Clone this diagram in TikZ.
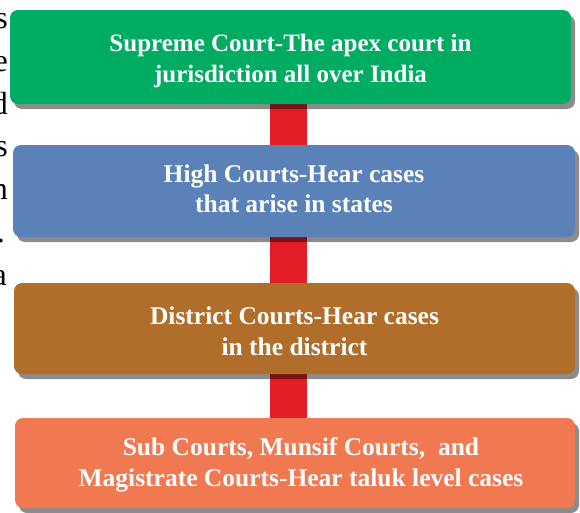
\documentclass[tikz,border=0pt]{standalone}
\usepackage{fontspec}
\setmainfont{Liberation Serif}
\usetikzlibrary{shadows,backgrounds}
\definecolor{sgreen}{RGB}{0,172,98}
\definecolor{hblue}{RGB}{90,130,184}
\definecolor{dbrown}{RGB}{176,110,42}
\definecolor{sorange}{RGB}{240,121,82}
\definecolor{barred}{RGB}{228,30,38}
\tikzset{
  court/.style={rounded corners=8pt, inner sep=0pt,
    drop shadow={shadow xshift=4pt, shadow yshift=-5pt, fill=black, opacity=0.45}},
  courttext/.style={align=center, text=white, inner sep=0pt,
    font=\bfseries\fontsize{25.5}{30.5}\selectfont},
  bar/.style={line width=37pt, barred},
  edge/.style={anchor=base east, font=\fontsize{32}{38}\selectfont, text=black, inner sep=0pt}
}
\begin{document}
\begin{tikzpicture}[x=1pt,y=-1pt]
\useasboundingbox (0,0) rectangle (580,512);
\clip (0,0) rectangle (580,512);
\node[edge] (l1) at (8,28) {s};
\node[edge] (l2) at (8,71) {e};
\node[edge] (l3) at (8,114) {d};
\node[edge] (l4) at (8,156) {s};
\node[edge] (l5) at (8,199) {n};
\node[edge] (l6) at (5,242) {.};
\node[edge] (l7) at (7,285) {a};
\node[court, fill=sgreen, minimum width=561pt, minimum height=94pt] (sc) at (290.5,57) {};
\node[court, fill=hblue, minimum width=562pt, minimum height=92pt] (hc) at (294,191) {};
\node[court, fill=dbrown, minimum width=561pt, minimum height=91pt] (dc) at (294.5,328.5) {};
\node[court, fill=sorange, minimum width=560pt, minimum height=90pt] (sb) at (295,463) {};
\node[courttext, font=\bfseries\fontsize{25}{30.5}\selectfont] (sct) at ([yshift=-4pt]sc.center) {Supreme Court-The apex court in\\jurisdiction all over India};
\node[courttext] (hct) at ([yshift=2pt]hc.center) {High Courts-Hear cases\\that arise in states};
\node[courttext] (dct) at ([yshift=-3pt]dc.center) {District Courts-Hear cases\\in the district};
\node[courttext] (sbt) at ([xshift=6pt,yshift=-2pt]sb.center) {Sub Courts, Munsif Courts,\ \ and\\Magistrate Courts-Hear taluk level cases};
\coordinate (barx) at (288.5,0);
\begin{scope}[on background layer]
\draw[bar] (sc.south -| barx) -- (hc.north -| barx);
\draw[bar] (hc.south -| barx) -- (dc.north -| barx);
\draw[bar] (dc.south -| barx) -- (sb.north -| barx);
\end{scope}
\end{tikzpicture}
\end{document}
